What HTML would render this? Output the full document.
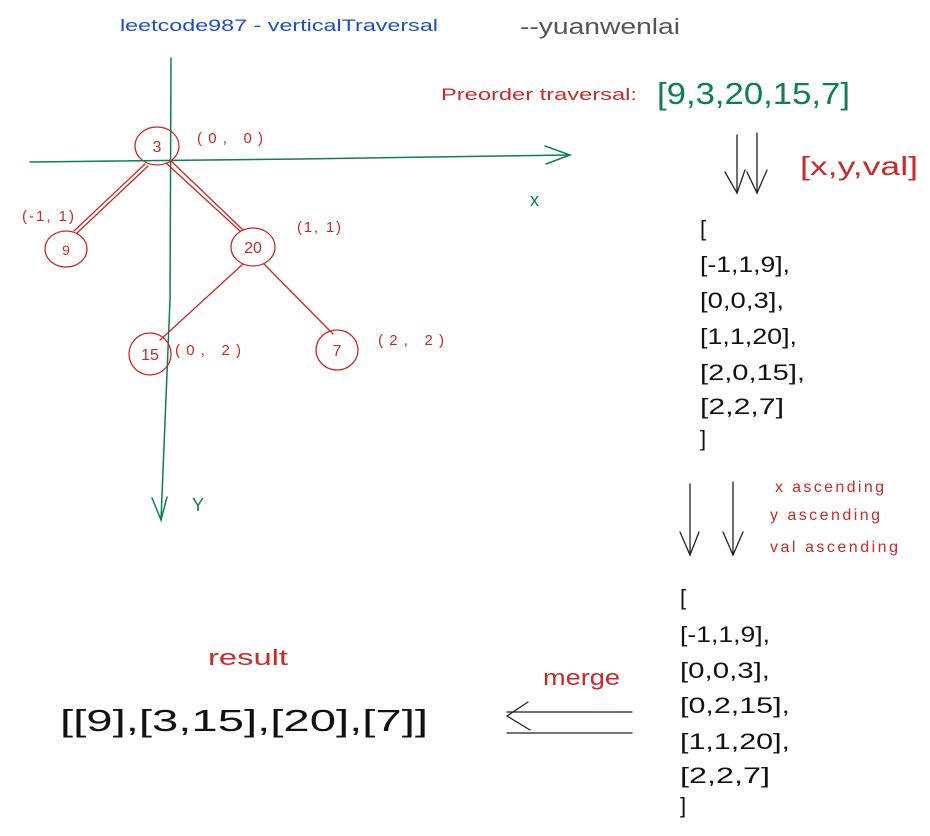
<!DOCTYPE html>
<html><head><meta charset="utf-8"><style>
html,body{margin:0;padding:0;background:#fff;}
svg{display:block;}
text{font-family:"Liberation Sans",sans-serif;}
</style></head><body>
<svg width="930" height="836" viewBox="0 0 930 836" xmlns="http://www.w3.org/2000/svg">
<g fill="none" stroke-linecap="round">
<path d="M171 58 L170 300 L161 520" stroke="#0c8050" stroke-width="1.5"/>
<path d="M152 498 L161 520 L167 497" stroke="#0c8050" stroke-width="1.5"/>
<path d="M30 162 L300 159 L570 155" stroke="#0c8050" stroke-width="1.5"/>
<path d="M545 146 L570 155 L546 164" stroke="#0c8050" stroke-width="1.5"/>
<g stroke="#c92a2a" stroke-width="1.3">
<path d="M145 164 L74 231"/><path d="M148 166 L77 233"/>
<path d="M170 160 L243 230"/><path d="M166 163 L240 231"/>
<path d="M243 264 L160 340"/>
<path d="M264 264 L333 334"/>
<ellipse cx="157" cy="146" rx="22" ry="19"/>
<ellipse cx="66" cy="249" rx="21" ry="18"/>
<ellipse cx="253" cy="247" rx="22" ry="19"/>
<ellipse cx="150" cy="354" rx="21" ry="21"/>
<ellipse cx="337" cy="350" rx="21" ry="20"/>
</g>
<g stroke="#222" stroke-width="1.3">
<path d="M737 135 L737 193"/><path d="M725 172 L737 193 L745 170"/>
<path d="M757 133 L757 193"/><path d="M747 172 L757 193 L767 170"/>
<path d="M690 484 L690 555"/><path d="M680 532 L690 555 L699 532"/>
<path d="M733 482 L733 555"/><path d="M723 532 L733 555 L743 532"/>
<path d="M632 712 L507 712"/><path d="M632 733 L507 733"/>
<path d="M528 702 L507 716 L530 730"/>
</g>
</g>
<g font-size="16" fill="#c92a2a" text-anchor="middle">
<text x="157" y="152">3</text><text x="66" y="255" font-size="14">9</text>
<text x="253" y="253">20</text><text x="150" y="360">15</text><text x="337" y="356">7</text>
</g>
<g font-size="15" fill="#c92a2a" lengthAdjust="spacingAndGlyphs">
<text x="197" y="143" textLength="66">(0,  0)</text>
<text x="22" y="221" textLength="52">(-1,  1)</text>
<text x="297" y="232" textLength="44">(1,  1)</text>
<text x="175" y="355" textLength="66">(0,  2)</text>
<text x="378" y="345" textLength="66">(2,  2)</text>
</g>
<text x="120" y="31" font-size="17" fill="#1c4fc0" textLength="318" lengthAdjust="spacingAndGlyphs">leetcode987 - verticalTraversal</text>
<text x="520" y="34" font-size="22" fill="#555" textLength="160" lengthAdjust="spacingAndGlyphs">--yuanwenlai</text>
<text x="530" y="206" font-size="18" fill="#0c8050">x</text>
<text x="192" y="511" font-size="18" fill="#0c8050">Y</text>
<text x="441" y="100" font-size="17" fill="#c92a2a" textLength="196" lengthAdjust="spacingAndGlyphs">Preorder traversal:</text>
<text x="657" y="104" font-size="31" fill="#0c8050" textLength="193" lengthAdjust="spacingAndGlyphs">[9,3,20,15,7]</text>
<text x="800" y="175" font-size="26" fill="#c92a2a" textLength="118" lengthAdjust="spacingAndGlyphs">[x,y,val]</text>
<g font-size="22" fill="#111">
<text x="700" y="236">[</text>
<text x="700" y="272" textLength="90" lengthAdjust="spacingAndGlyphs">[-1,1,9],</text>
<text x="700" y="308" textLength="84" lengthAdjust="spacingAndGlyphs">[0,0,3],</text>
<text x="700" y="344" textLength="97" lengthAdjust="spacingAndGlyphs">[1,1,20],</text>
<text x="700" y="380" textLength="105" lengthAdjust="spacingAndGlyphs">[2,0,15],</text>
<text x="700" y="414" textLength="84" lengthAdjust="spacingAndGlyphs">[2,2,7]</text>
<text x="700" y="446">]</text>
<text x="680" y="605">[</text>
<text x="680" y="642" textLength="90" lengthAdjust="spacingAndGlyphs">[-1,1,9],</text>
<text x="680" y="678" textLength="90" lengthAdjust="spacingAndGlyphs">[0,0,3],</text>
<text x="680" y="713" textLength="110" lengthAdjust="spacingAndGlyphs">[0,2,15],</text>
<text x="680" y="749" textLength="110" lengthAdjust="spacingAndGlyphs">[1,1,20],</text>
<text x="680" y="783" textLength="90" lengthAdjust="spacingAndGlyphs">[2,2,7]</text>
<text x="680" y="813">]</text>
</g>
<g font-size="16" fill="#c92a2a" lengthAdjust="spacingAndGlyphs">
<text x="775" y="492" textLength="109">x ascending</text>
<text x="770" y="520" textLength="110">y ascending</text>
<text x="770" y="552" textLength="128">val ascending</text>
</g>
<text x="543" y="685" font-size="22" fill="#c92a2a" textLength="77" lengthAdjust="spacingAndGlyphs">merge</text>
<text x="208" y="665" font-size="22" fill="#c92a2a" textLength="80" lengthAdjust="spacingAndGlyphs">result</text>
<text x="60" y="731" font-size="31" fill="#111" textLength="368" lengthAdjust="spacingAndGlyphs">[[9],[3,15],[20],[7]]</text>
</svg>
</body></html>
